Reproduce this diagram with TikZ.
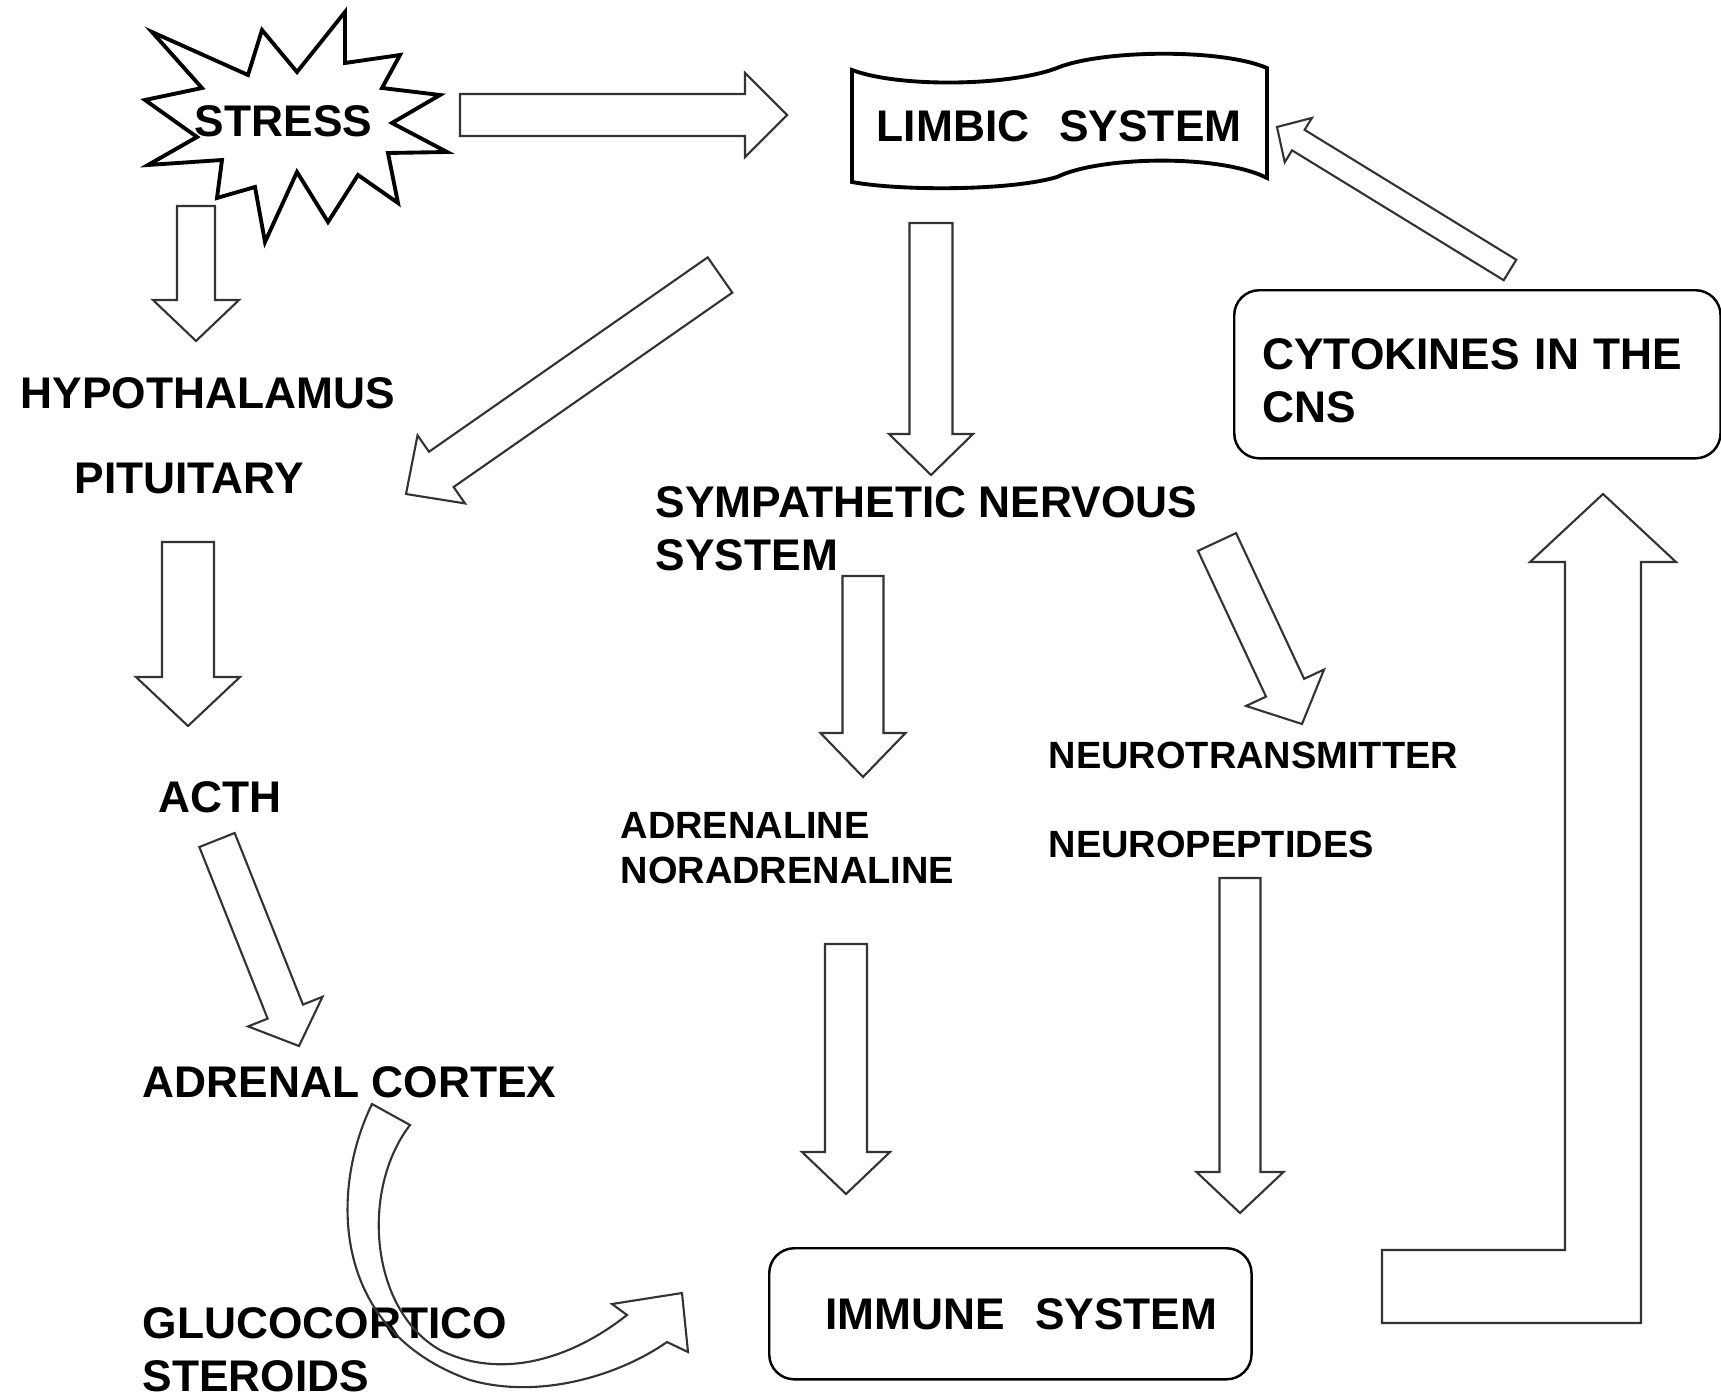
\documentclass[tikz,border=0pt]{standalone}
\usepackage{fontspec}
\setmainfont{Liberation Sans}
\usepackage{tikz}
\usetikzlibrary{calc}
\usetikzlibrary{positioning}

% hollow block arrow: tail, tip, half shaft, half head, head length
\newcommand{\fatarrow}[5]{%
  \coordinate (fa-base) at ($(#2)!#5!(#1)$);
  \draw[hollow] ($(#1)!#3!90:(#2)$) -- ($(fa-base)!#3!90:(#2)$) -- ($(fa-base)!#4!90:(#2)$) -- (#2)
    -- ($(fa-base)!#4!-90:(#2)$) -- ($(fa-base)!#3!-90:(#2)$) -- ($(#1)!#3!-90:(#2)$) -- cycle;
}

\begin{document}
\begin{tikzpicture}[x=0.01cm,y=-0.01cm,
    lbl/.style={inner sep=0pt, font=\fontsize{12.6}{15.1}\selectfont\bfseries},
    smalllbl/.style={inner sep=0pt, font=\fontsize{10.8}{12.8}\selectfont\bfseries},
    hollow/.style={draw=black!80, line width=0.6pt, fill=white},
    roundbox/.style={draw, line width=0.7pt, rounded corners=0.25cm, inner sep=0pt},
    thickline/.style={draw=black, line width=1.1pt, fill=white}]
		\useasboundingbox (0,0) rectangle (1721,1397);
		\fill[white] (0,0) rectangle (1721,1397);

		% stress star
		\draw[thickline] (152,32) -- (248,75) -- (262,30) -- (297,72) -- (345,12) -- (345,63)
			-- (400,55) -- (382,88) -- (440,95) -- (392,123) -- (447,152) -- (388,153)
			-- (398,203) -- (358,175) -- (328,222) -- (297,172) -- (265,242) -- (255,187)
			-- (217,198) -- (222,160) -- (148,165) -- (197,137) -- (145,100) -- (202,88) -- cycle;
		\draw (283.5,121) node[lbl] (stress) {STRESS};

		% limbic banner
		\draw[thickline] (852,70) .. controls (900,88) and (1010,86) .. (1057,68)
			.. controls (1100,50) and (1220,48) .. (1267,68) -- (1267,178)
			.. controls (1220,154) and (1100,156) .. (1057,177)
			.. controls (1010,191) and (900,191) .. (852,182) -- cycle;
		\draw (876,126) node[lbl, anchor=west] (limbic) {LIMBIC\hspace{0.3cm}SYSTEM};

		% labels
		\draw (20,393) node[lbl, anchor=west] (hypo) {HYPOTHALAMUS};
		\draw (74,478) node[lbl, anchor=west] (pit) {PITUITARY};
		\draw (158,797) node[lbl, anchor=west] (acth) {ACTH};
		\draw (142,1082) node[lbl, anchor=west] (adrenal) {ADRENAL CORTEX};
		\draw (142,1307) node[lbl, anchor=north west, align=left] (gluco) {GLUCOCORTICO\\STEROIDS};
		\draw (655,486) node[lbl, anchor=north west, align=left] (sns) {SYMPATHETIC NERVOUS\\SYSTEM};
		\draw (620,812) node[smalllbl, anchor=north west, align=left] (adren) {ADRENALINE\\NORADRENALINE};
		\draw (1048,755) node[smalllbl, anchor=west] (ntrans) {NEUROTRANSMITTER};
		\draw (1048,844) node[smalllbl, anchor=west] (npep) {NEUROPEPTIDES};

		% boxes
		\node[lbl, roundbox, anchor=north west, minimum width=4.86cm, minimum height=1.68cm,
			text width=4.3cm, align=left, inner xsep=0.28cm] (cyto) at (1233,289)
			{\rule{0pt}{12.3pt}CYTOKINES IN THE\\CNS};
		\node[lbl, roundbox, anchor=north west, minimum width=4.82cm, minimum height=1.31cm]
			(immune) at (768,1247) {\hspace*{0.22cm}IMMUNE\hspace{0.3cm}SYSTEM};

		% arrow ends
		\coordinate (stress-r) at (460,115);   \coordinate (limbic-l) at (787,115);
		\coordinate (stress-b) at (196,206);   \coordinate (hypo-t) at (196,341);
		\coordinate (limbic-sw) at (720,275);  \coordinate (pit-ne) at (406,494);
		\coordinate (limbic-b) at (931,223);   \coordinate (sns-t) at (931,475);
		\coordinate (cyto-nw) at (1510,270);   \coordinate (limbic-r) at (1277,127);
		\coordinate (pit-b) at (188,542);      \coordinate (acth-t) at (188,726);
		\coordinate (acth-b) at (217,840);     \coordinate (adrenal-t) at (299,1046);
		\coordinate (sns-b) at (863,576);      \coordinate (adren-t) at (863,777);
		\coordinate (sns-se) at (1217,542);    \coordinate (ntrans-t) at (1302,724);
		\coordinate (adren-b) at (846,944);    \coordinate (immune-tl) at (846,1194);
		\coordinate (npep-b) at (1240,878);    \coordinate (immune-tr) at (1240,1213);

		\fatarrow{stress-r}{limbic-l}{.21cm}{.42cm}{.42cm}
		\fatarrow{stress-b}{hypo-t}{.19cm}{.43cm}{.41cm}
		\fatarrow{limbic-sw}{pit-ne}{.215cm}{.415cm}{.43cm}
		\fatarrow{limbic-b}{sns-t}{.215cm}{.42cm}{.41cm}
		\fatarrow{cyto-nw}{limbic-r}{.12cm}{.26cm}{.25cm}
		\fatarrow{pit-b}{acth-t}{.26cm}{.52cm}{.49cm}
		\fatarrow{acth-b}{adrenal-t}{.19cm}{.40cm}{.37cm}
		\fatarrow{sns-b}{adren-t}{.205cm}{.425cm}{.44cm}
		\fatarrow{sns-se}{ntrans-t}{.21cm}{.43cm}{.40cm}
		\fatarrow{adren-b}{immune-tl}{.21cm}{.44cm}{.42cm}
		\fatarrow{npep-b}{immune-tr}{.205cm}{.435cm}{.41cm}

		% immune -> cytokines
		\draw[hollow] (1382,1250) -- (1565,1250) -- (1565,562) -- (1530,562) -- (1603,494)
			-- (1676,562) -- (1641,562) -- (1641,1323) -- (1382,1323) -- cycle;

		% glucocorticoids curved arrow
		\draw[draw=black!80, line width=0.6pt] (372,1104) .. controls (330,1190) and (330,1330) .. (470,1380)
			.. controls (540,1400) and (620,1375) .. (667,1342) -- (688,1352) -- (682,1293) -- (612,1304)
			-- (627,1315) .. controls (570,1360) and (500,1380) .. (440,1350)
			.. controls (370,1310) and (360,1190) .. (410,1125) -- cycle;
	\end{tikzpicture}
\end{document}
